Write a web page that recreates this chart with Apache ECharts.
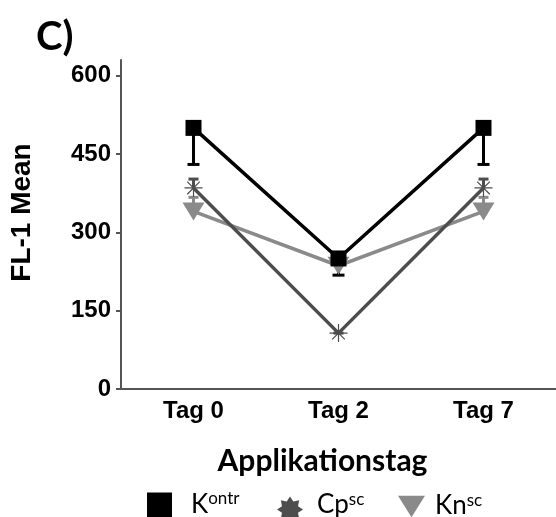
<!DOCTYPE html>
<html><head><meta charset="utf-8">
<script src="https://cdn.jsdelivr.net/npm/echarts@6/dist/echarts.min.js"></script>
<style>html,body{margin:0;padding:0;background:#fff}#c{width:556px;height:517px}</style>
</head><body><div id="c"></div>
<script>
const categories = ['Tag 0', 'Tag 2', 'Tag 7'];
const yTicks = [0, 150, 300, 450, 600];
const kontr = [500, 250, 500];
const kontrErrLow = [70, 32, 70];
const cpsc = [385, 107, 385];
const cpscErrHigh = [17, 0, 17];
const knsc = [340, 236, 340];
const knscErrHigh = [27, 12, 27];

const C_K = '#000000', C_CP = '#4d4d4d', C_KN = '#8a8a8a';

function starPath(n, ro, ri) {
  let d = '';
  for (let i = 0; i < 2 * n; i++) {
    const r = i % 2 ? ri : ro;
    const a = Math.PI * i / n - Math.PI / 2;
    d += (i ? 'L' : 'M') + (r * Math.cos(a)).toFixed(2) + ',' + (r * Math.sin(a)).toFixed(2);
  }
  return 'path://' + d + 'Z';
}
const asterisk = 'path://M0,-10L0,10M-10,0L10,0M-7,-7L7,7M-7,7L7,-7';
const triangle = 'path://M0,0L20,0L10,16Z';

function errSeries(name, vals, errs, dir, color, capW) {
  return {
    type: 'custom', name: name + '_err', silent: true, z: 1,
    data: vals.map((v, i) => [i, v, dir > 0 ? v + errs[i] : v - errs[i]]),
    renderItem: function (params, api) {
      const p0 = api.coord([api.value(0), api.value(1)]);
      const p1 = api.coord([api.value(0), api.value(2)]);
      return { type: 'group', children: [
        { type: 'line', shape: { x1: p0[0], y1: p0[1], x2: p1[0], y2: p1[1] }, style: { stroke: color, lineWidth: 3 } },
        { type: 'line', shape: { x1: p1[0] - capW, y1: p1[1], x2: p1[0] + capW, y2: p1[1] }, style: { stroke: color, lineWidth: 3 } }
      ]};
    }
  };
}

const chart = echarts.init(document.getElementById('c'), null, { renderer: 'canvas' });
const richLeg = (base, sup, gapL, lb, pb, ls, ps) => ({
  lineStyle: { opacity: 0 },
  formatter: () => '{b|' + base + '}{s|' + sup + '}',
  textStyle: { rich: {
    b: { fontFamily: 'Lato', fontSize: 26, color: '#000', lineHeight: lb, padding: [0, 0, pb, gapL] },
    s: { fontFamily: 'Lato', fontSize: 17, color: '#000', lineHeight: ls, padding: [0, 0, ps, 0] }
  } }
});
chart.setOption({
  animation: false,
  title: { text: 'C)', left: 31, top: 12, textStyle: { fontFamily: 'Lato', fontWeight: 'bold', fontSize: 40, color: '#000' } },
  grid: { left: 120, width: 443, top: 60, bottom: 128 },
  legend: [
    Object.assign({ left: 147, top: 490, padding: 0, data: [{ name: 'Kontr', icon: 'rect' }], itemWidth: 25, itemHeight: 28 }, richLeg('K', 'ontr', 14, 22, 4, 10, 16)),
    Object.assign({ left: 277, top: 491, padding: 0, data: [{ name: 'Cpsc', icon: starPath(8, 12, 8), itemStyle: { color: C_CP, borderWidth: 0 } }], itemWidth: 26, itemHeight: 28 }, richLeg('Cp', 'sc', 9, 18, 10, 8, 20)),
    Object.assign({ left: 398, top: 492, padding: 0, data: [{ name: 'Knsc', icon: triangle }], itemWidth: 27, itemHeight: 22 }, richLeg('Kn', 'sc', 5, 20, 2, 10, 12))
  ],
  xAxis: {
    type: 'category', data: categories, boundaryGap: true,
    name: 'Applikationstag', nameLocation: 'middle', nameGap: 57,
    nameTextStyle: { fontFamily: 'Lato', fontWeight: 'bold', fontSize: 30, color: '#000', padding: [0, 32, 0, 0] },
    axisLine: { lineStyle: { color: '#555', width: 2 } },
    axisTick: { alignWithLabel: true, length: 5, lineStyle: { color: '#555', width: 2 } },
    axisLabel: { margin: 10, fontFamily: 'Liberation Sans', fontWeight: 'bold', fontSize: 24, color: '#000' }
  },
  yAxis: {
    type: 'value', min: 0, max: 630,
    name: 'FL-1 Mean', nameLocation: 'middle', nameGap: 85, nameRotate: 90,
    nameTextStyle: { fontFamily: 'Liberation Sans', fontWeight: 'bold', fontSize: 28, color: '#000', padding: [0, 0, 0, 24] },
    splitLine: { show: false },
    axisLine: { show: true, lineStyle: { color: '#555', width: 2 } },
    axisTick: { show: true, length: 5, customValues: yTicks, lineStyle: { color: '#555', width: 2 } },
    axisLabel: { margin: 10, customValues: yTicks, fontFamily: 'Liberation Sans', fontWeight: 'bold', fontSize: 24, color: '#000' }
  },
  series: [
    errSeries('Knsc', knsc, knscErrHigh, 1, C_KN, 5),
    errSeries('Cpsc', cpsc, cpscErrHigh, 1, C_CP, 5),
    errSeries('Kontr', kontr, kontrErrLow, -1, C_K, 6),
    { name: 'Knsc', type: 'line', data: knsc, z: 2, symbol: triangle, symbolSize: [22, 18],
      lineStyle: { color: C_KN, width: 3.5 }, itemStyle: { color: C_KN } },
    { name: 'Cpsc', type: 'line', data: cpsc, z: 3, symbol: asterisk, symbolSize: 18,
      lineStyle: { color: C_CP, width: 3.5 }, itemStyle: { color: 'rgba(0,0,0,0)', borderColor: C_CP, borderWidth: 1.2 } },
    { name: 'Kontr', type: 'line', data: kontr, z: 4, symbol: 'rect', symbolSize: 16,
      lineStyle: { color: C_K, width: 3.5 }, itemStyle: { color: C_K } }
  ]
});
</script></body></html>
